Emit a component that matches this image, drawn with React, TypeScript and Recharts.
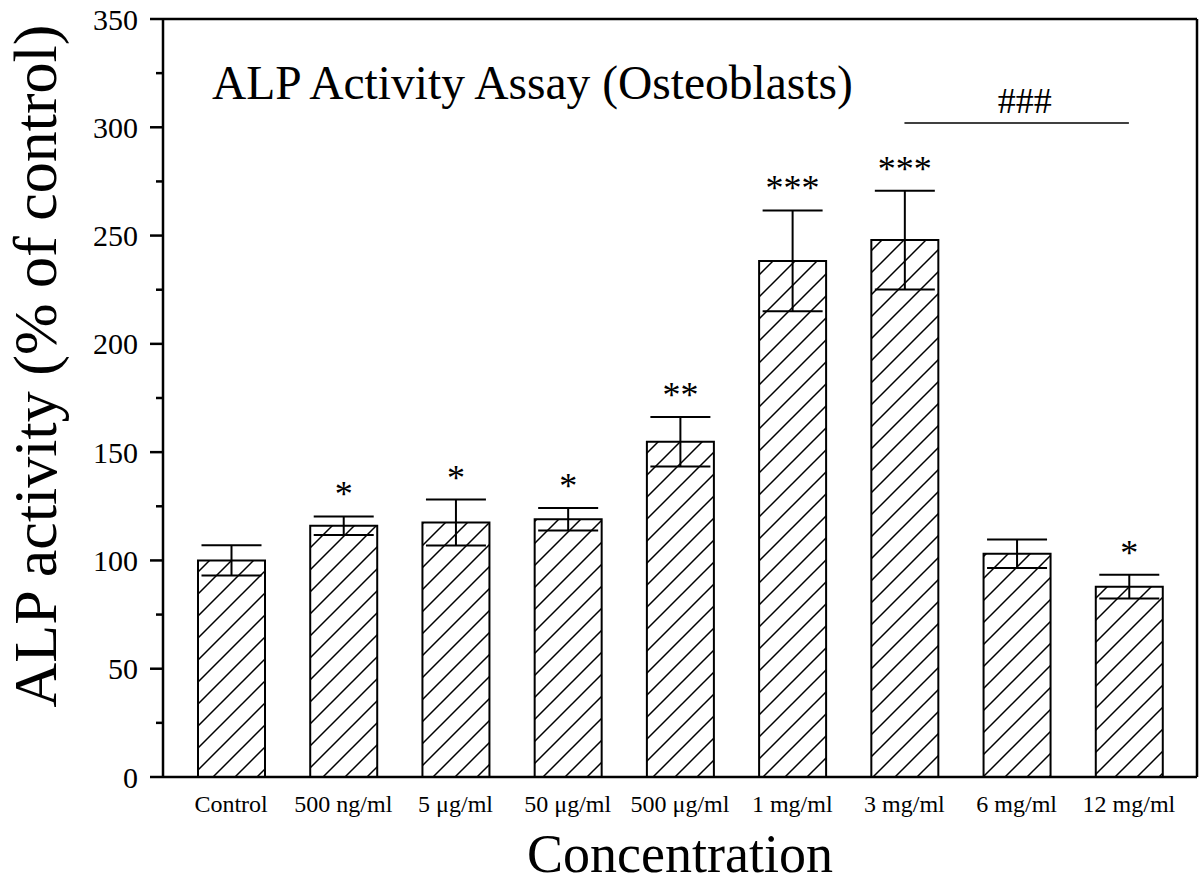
import React from 'react'
import {
  BarChart,
  Bar,
  XAxis,
  YAxis,
  ErrorBar,
  LabelList,
  ReferenceLine,
} from 'recharts'

const categories = [
  'Control',
  '500 ng/ml',
  '5 μg/ml',
  '50 μg/ml',
  '500 μg/ml',
  '1 mg/ml',
  '3 mg/ml',
  '6 mg/ml',
  '12 mg/ml',
]
const activity = [100, 116, 117.5, 119, 154.8, 238.3, 247.9, 103.1, 87.9]
const errors = [7, 4.3, 10.6, 5.2, 11.4, 23.3, 22.8, 6.6, 5.5]
const significance = ['', '*', '*', '*', '**', '***', '***', '', '*']
const yTicks = [0, 25, 50, 75, 100, 125, 150, 175, 200, 225, 250, 275, 300, 325, 350]
const bracketLevel = 302

const data = categories.map((name, i) => ({
  name,
  activity: activity[i],
  err: errors[i],
  sig: significance[i],
}))

const FONT = '"Liberation Serif", "Times New Roman", serif'

function YTick({ x, y, payload }: any) {
  const major = payload.value % 50 === 0
  return (
    <g>
      <line
        x1={x - (major ? 13 : 7)}
        x2={x}
        y1={y}
        y2={y}
        stroke="#000"
        strokeWidth={2.5}
      />
      {major && (
        <text
          x={x - 25}
          y={y}
          dy="0.35em"
          textAnchor="end"
          fontSize={30}
          fontFamily={FONT}
          fill="#000"
        >
          {payload.value}
        </text>
      )}
    </g>
  )
}

function StarLabel({ x, y, width, height, value, index }: any) {
  if (!value) return null
  const pxPerUnit = height / activity[index]
  const capTop = y - errors[index] * pxPerUnit
  return (
    <text
      x={x + width / 2}
      y={capTop - 10}
      textAnchor="middle"
      fontSize={36}
      fontFamily={FONT}
      fill="#000"
    >
      {value}
    </text>
  )
}

export default function App() {
  return (
    <div style={{ position: 'absolute', left: 0, top: 0, width: 1200, height: 889, background: '#fff' }}>
      <div
        style={{
          position: 'absolute',
          left: 212,
          top: 60,
          fontFamily: FONT,
          fontSize: 47.5,
          lineHeight: 1,
          whiteSpace: 'nowrap',
          color: '#000',
        }}
      >
        ALP Activity Assay (Osteoblasts)
      </div>
      <BarChart
        width={1200}
        height={889}
        data={data}
        margin={{ top: 18, right: 2, bottom: 0, left: 0 }}
        style={{ position: 'absolute', left: 0, top: 0 }}
      >
        <defs>
          <pattern id="hatch" patternUnits="userSpaceOnUse" width={22} height={22}>
            <rect width={22} height={22} fill="#fff" />
            <path
              d="M0,22 L22,0 M-5.5,5.5 L5.5,-5.5 M16.5,27.5 L27.5,16.5"
              stroke="#000"
              strokeWidth={1.5}
            />
          </pattern>
        </defs>
        <XAxis
          dataKey="name"
          padding={{ left: 12, right: 12 }}
          height={112}
          tickLine={false}
          tickSize={0}
          tickMargin={18}
          axisLine={{ stroke: '#000', strokeWidth: 2.5 }}
          tick={{ fontSize: 24, fontFamily: FONT, fill: '#000' }}
          interval={0}
          label={{
            content: ({ viewBox }: any) => (
              <text
                x={viewBox.x + viewBox.width / 2}
                y={viewBox.y + 95}
                textAnchor="middle"
                fontSize={54}
                fontFamily={FONT}
                fill="#000"
              >
                Concentration
              </text>
            ),
          }}
        />
        <XAxis
          xAxisId="top"
          dataKey="name"
          orientation="top"
          padding={{ left: 12, right: 12 }}
          height={1}
          tick={false}
          tickLine={false}
          axisLine={{ stroke: '#000', strokeWidth: 2.5 }}
        />
        <YAxis
          domain={[0, 350]}
          ticks={yTicks}
          interval={0}
          width={163}
          tickLine={false}
          tickSize={0}
          tickMargin={0}
          axisLine={{ stroke: '#000', strokeWidth: 2.5 }}
          tick={<YTick />}
          label={{
            content: () => (
              <text
                x={56}
                y={366}
                transform="rotate(-90 56 366)"
                textAnchor="middle"
                fontSize={62}
                fontFamily={FONT}
                fill="#000"
              >
                ALP activity (% of control)
              </text>
            ),
          }}
        />
        <YAxis
          yAxisId="right"
          orientation="right"
          domain={[0, 350]}
          width={1}
          tick={false}
          tickLine={false}
          axisLine={{ stroke: '#000', strokeWidth: 2.5 }}
        />
        <Bar
          dataKey="activity"
          fill="url(#hatch)"
          stroke="#000"
          strokeWidth={2}
          barSize={67}
          isAnimationActive={false}
        >
          <ErrorBar dataKey="err" width={30} stroke="#000" strokeWidth={2} />
          <LabelList dataKey="sig" content={<StarLabel />} />
        </Bar>
        <ReferenceLine
          segment={[
            { x: '3 mg/ml', y: bracketLevel },
            { x: '12 mg/ml', y: bracketLevel },
          ]}
          stroke="#000"
          strokeWidth={1.5}
          label={{
            content: ({ viewBox }: any) => (
              <text
                x={viewBox.x + viewBox.width / 2 + 8}
                y={viewBox.y - 10}
                textAnchor="middle"
                fontSize={36}
                fontFamily={FONT}
                fill="#000"
              >
                ###
              </text>
            ),
          }}
        />
      </BarChart>
    </div>
  )
}
